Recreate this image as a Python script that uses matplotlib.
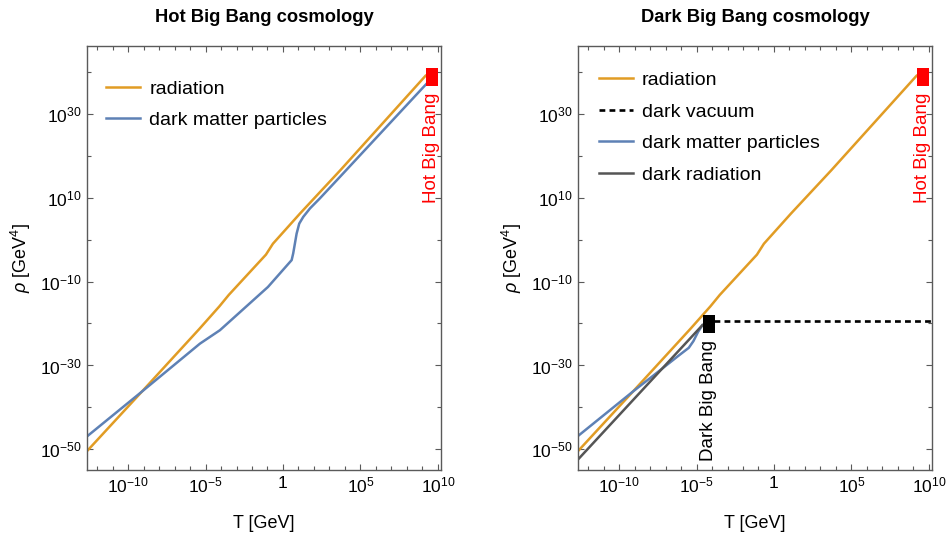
import numpy as np
import matplotlib
matplotlib.use('Agg')
import matplotlib.pyplot as plt
from matplotlib.ticker import NullFormatter

plt.rcParams['font.family'] = 'Liberation Sans'
plt.rcParams['mathtext.fontset'] = 'custom'
plt.rcParams['mathtext.rm'] = 'Liberation Sans'
plt.rcParams['mathtext.it'] = 'Liberation Sans:italic'
plt.rcParams['mathtext.bf'] = 'Liberation Sans:bold'

# values, as log10 of T [GeV] and rho [GeV^4]
rad_logT = [-12.65, -9.2, -5.4, -4.1, -3.5, -1.1, -0.65, 1.1, 3.7, 9.2]
rad_logrho = [-50.4, -36.6, -21.3, -15.9, -13.2, -3.6, -1.0, 6.2, 16.5, 39.0]

dm_hot_logT = [-12.65, -9.23, -5.36, -4.07, -0.97, 0.56, 0.66, 0.77, 0.88,
               1.05, 1.31, 1.74, 2.38, 3.67, 9.29]
dm_hot_logrho = [-46.9, -36.6, -24.8, -21.6, -11.3, -4.9, -3.3, -0.95, 1.4,
                 3.8, 5.4, 7.4, 9.8, 14.9, 37.2]

dm_dark_logT = [-12.65, -9.1, -7.2, -6.1, -5.5, -5.2, -4.9, -4.62]
dm_dark_logrho = [-46.8, -36.2, -30.7, -27.5, -25.8, -24.2, -22.0, -20.4]

dr_logT = [-12.65, -4.62]
dr_logrho = [-52.4, -20.4]

vac_logT = [-3.85, 10.3]
vac_logrho = [-19.5, -19.5]

hot_bang = (9.6, 38.8)
dark_bang = (-4.21, -20.2)

x_ticks = [1e-10, 1e-5, 1, 1e5, 1e10]
x_tick_labels = ['$10^{-10}$', '$10^{-5}$', '1', '$10^{5}$', '$10^{10}$']
y_ticks = [1e30, 1e10, 1e-10, 1e-30, 1e-50]
y_tick_labels = ['$10^{30}$', '$10^{10}$', '$10^{-10}$', '$10^{-30}$', '$10^{-50}$']

ORANGE = '#e19c24'
BLUE = '#5e81b5'
GREY = '#555555'
FRAME = '#5a5a5a'
RED = '#ff0000'

W, H = 946, 535
fig = plt.figure(figsize=(W / 100, H / 100), dpi=100)
ax1 = fig.add_axes([87 / W, 65 / H, 354 / W, 424 / H])
ax2 = fig.add_axes([578 / W, 65 / H, 354 / W, 424 / H])

rect = [(-0.65, -1), (0.65, -1), (0.65, 1), (-0.65, 1), (-0.65, -1)]


def pw(vals):
    return 10.0 ** np.array(vals)


def style_axes(ax, title):
    ax.set_xscale('log')
    ax.set_yscale('log')
    ax.set_xlim(10 ** -12.65, 10 ** 10.2)
    ax.set_ylim(10 ** -54.9, 10 ** 46.1)
    ax.set_xticks(x_ticks, x_tick_labels)
    ax.set_xticks(10.0 ** np.arange(-12, 11), minor=True)
    ax.set_yticks(y_ticks, y_tick_labels)
    ax.set_yticks(10.0 ** np.arange(-50, 50, 10), minor=True)
    ax.xaxis.set_minor_formatter(NullFormatter())
    ax.yaxis.set_minor_formatter(NullFormatter())
    ax.tick_params(which='both', direction='in', top=True, right=True,
                   color=FRAME, labelsize=12.5, pad=4)
    ax.tick_params(which='major', length=4.5, width=0.8)
    ax.tick_params(which='minor', length=2.8, width=0.8)
    for s in ax.spines.values():
        s.set_color(FRAME)
        s.set_linewidth(1.0)
    ax.set_xlabel('T [GeV]', fontsize=13, labelpad=14)
    ax.set_ylabel(r'$\rho$ [GeV$^4$]', fontsize=13, labelpad=5)
    ax.set_title(title, fontsize=13.2, fontweight='bold', pad=17.5)


def bang_marker(ax, pos, color, label):
    ax.plot([10 ** pos[0]], [10 ** pos[1]], marker=rect, markersize=13.2,
            color=color, mew=0, linestyle='none', zorder=5, clip_on=False)
    ax.annotate(label, xy=(10 ** pos[0], 10 ** pos[1]), xytext=(0, -11.3),
                textcoords='offset points', rotation=90, ha='center',
                va='top', color=color, fontsize=13.5)


lw = 1.8
leg_kw = dict(loc='upper left', frameon=False, fontsize=14, handlelength=1.75,
              handletextpad=0.45, labelspacing=0.72, borderaxespad=0,
              borderpad=0)

# Hot Big Bang panel
ax1.plot(pw(rad_logT), pw(rad_logrho), color=ORANGE, lw=lw, label='radiation')
ax1.plot(pw(dm_hot_logT), pw(dm_hot_logrho), color=BLUE, lw=lw,
         label='dark matter particles')
bang_marker(ax1, hot_bang, RED, 'Hot Big Bang')
style_axes(ax1, 'Hot Big Bang cosmology')
ax1.legend(bbox_to_anchor=(0.055, 0.92), **leg_kw)

# Dark Big Bang panel
ax2.plot(pw(rad_logT), pw(rad_logrho), color=ORANGE, lw=lw, label='radiation')
ax2.plot(pw(vac_logT), pw(vac_logrho), color='black', lw=1.9,
         linestyle=(0, (2.2, 1.6)), label='dark vacuum', clip_on=False)
ax2.plot(pw(dm_dark_logT), pw(dm_dark_logrho), color=BLUE, lw=lw,
         label='dark matter particles')
ax2.plot(pw(dr_logT), pw(dr_logrho), color=GREY, lw=lw, label='dark radiation')
bang_marker(ax2, hot_bang, RED, 'Hot Big Bang')
bang_marker(ax2, dark_bang, 'black', 'Dark Big Bang')
style_axes(ax2, 'Dark Big Bang cosmology')
ax2.legend(bbox_to_anchor=(0.06, 0.94), **leg_kw)

fig.savefig('out.png', dpi=100)
